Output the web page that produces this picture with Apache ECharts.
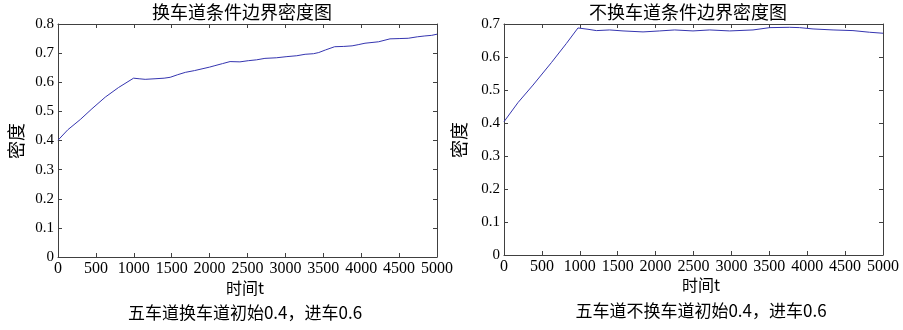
<!DOCTYPE html>
<html>
<head>
<meta charset="utf-8">
<script src="https://cdn.jsdelivr.net/npm/echarts@6/dist/echarts.min.js"></script>
<style>
  html, body { margin: 0; padding: 0; background: #fff; }
  #main { width: 903px; height: 330px; }
</style>
</head>
<body>
<div id="main"></div>
<script>
// 换车道：时间与密度
var t_change = [0, 130, 294, 448, 624, 799, 997, 1070, 1150, 1280, 1400, 1480, 1580, 1680, 1800, 1900,
  2000, 2070, 2170, 2270, 2400, 2510, 2620, 2730, 2880, 3020, 3150, 3260, 3370, 3440, 3530, 3650, 3770, 3880,
  3960, 4050, 4230, 4380, 4500, 4620, 4740, 4840, 4930, 5000];
var rho_change = [0.401, 0.437, 0.472, 0.509, 0.549, 0.582, 0.614, 0.612, 0.610, 0.612, 0.614, 0.617,
  0.626, 0.634, 0.640, 0.646, 0.652, 0.657, 0.664, 0.671, 0.670, 0.674, 0.677, 0.682, 0.684, 0.688, 0.691, 0.696,
  0.698, 0.702, 0.711, 0.722, 0.723, 0.725, 0.729, 0.734, 0.739, 0.749, 0.750, 0.751, 0.756, 0.759, 0.761, 0.765];

// 不换车道
var t_keep = [0, 185, 383, 625, 823, 976, 1108, 1219, 1394, 1570, 1834, 2054, 2252, 2493, 2714, 2977, 3285, 3505,
  3769, 3901, 4077, 4341, 4604, 4824, 5000];
var rho_keep = [0.404, 0.462, 0.515, 0.583, 0.641, 0.688, 0.684, 0.680, 0.682, 0.679, 0.676, 0.679, 0.682, 0.679,
  0.682, 0.679, 0.682, 0.689, 0.690, 0.689, 0.685, 0.682, 0.680, 0.675, 0.672];

var titles = ['换车道条件边界密度图', '不换车道条件边界密度图'];
var captions = ['五车道换车道初始0.4，进车0.6', '五车道不换车道初始0.4，进车0.6'];
var yMax = [0.8, 0.7];

function pairs(xs, ys) {
  return xs.map(function (x, i) { return [x, ys[i]]; });
}

var axisColor = '#404040';
var serif = '"Liberation Serif", "Times New Roman", serif';
var cjk = 'Noto Sans CJK SC';

var grids = [
  { left: 58, top: 24, width: 379, height: 233 },
  { left: 504, top: 24, width: 379, height: 231 }
];

var xAxes = [], yAxes = [];
grids.forEach(function (g, i) {
  // 下 / 左 主轴
  xAxes.push({
    type: 'value', gridIndex: i, min: 0, max: 5000, interval: 500,
    axisLine: { onZero: false, lineStyle: { color: axisColor, width: 1 } },
    axisTick: { inside: true, length: 4, lineStyle: { color: axisColor } },
    axisLabel: { color: '#000', fontFamily: serif, fontSize: 16, margin: 4,
      formatter: function (v) { return String(v); } },
    splitLine: { show: false }
  });
  yAxes.push({
    type: 'value', gridIndex: i, min: 0, max: yMax[i], interval: 0.1,
    axisLine: { show: true, onZero: false, lineStyle: { color: axisColor, width: 1 } },
    axisTick: { inside: true, length: 4, lineStyle: { color: axisColor } },
    axisLabel: { color: '#000', fontFamily: serif, fontSize: 15, margin: 4,
      formatter: function (v) { return String(+v.toFixed(1)); } },
    splitLine: { show: false }
  });
  // 上 / 右 边框轴
  xAxes.push({
    type: 'value', gridIndex: i, position: 'top', min: 0, max: 5000, interval: 500,
    axisLine: { show: true, onZero: false, lineStyle: { color: axisColor, width: 1 } },
    axisTick: { show: true, inside: true, length: 4, lineStyle: { color: axisColor } },
    axisLabel: { show: false }, splitLine: { show: false }
  });
  yAxes.push({
    type: 'value', gridIndex: i, position: 'right', min: 0, max: yMax[i], interval: 0.1,
    axisLine: { show: true, onZero: false, lineStyle: { color: axisColor, width: 1 } },
    axisTick: { show: true, inside: true, length: 4, lineStyle: { color: axisColor } },
    axisLabel: { show: false }, splitLine: { show: false }
  });
});

function txt(x, y, text, size, rot) {
  return {
    type: 'text', x: x, y: y, rotation: rot || 0, silent: true,
    style: { text: text, fill: '#000', font: size + 'px "' + cjk + '"', align: 'center', verticalAlign: 'middle' }
  };
}

var option = {
  animation: false,
  backgroundColor: '#fff',
  grid: grids,
  xAxis: xAxes,
  yAxis: yAxes,
  series: [
    { type: 'line', xAxisIndex: 0, yAxisIndex: 0, data: pairs(t_change, rho_change), showSymbol: false,
      lineStyle: { color: '#3535b0', width: 1 } },
    { type: 'line', xAxisIndex: 2, yAxisIndex: 2, data: pairs(t_keep, rho_keep), showSymbol: false,
      lineStyle: { color: '#3535b0', width: 1 } }
  ],
  graphic: [
    txt(242, 12, titles[0], 18),
    txt(688, 12, titles[1], 18),
    txt(16, 141, '密度', 18, Math.PI / 2),
    txt(459, 140, '密度', 18, Math.PI / 2),
    txt(245, 288, '时间t', 16),
    txt(701, 285, '时间t', 16),
    txt(245, 313, captions[0], 17),
    txt(701, 311, captions[1], 17)
  ]
};

var chart = echarts.init(document.getElementById('main'));
chart.setOption(option);
</script>
</body>
</html>
